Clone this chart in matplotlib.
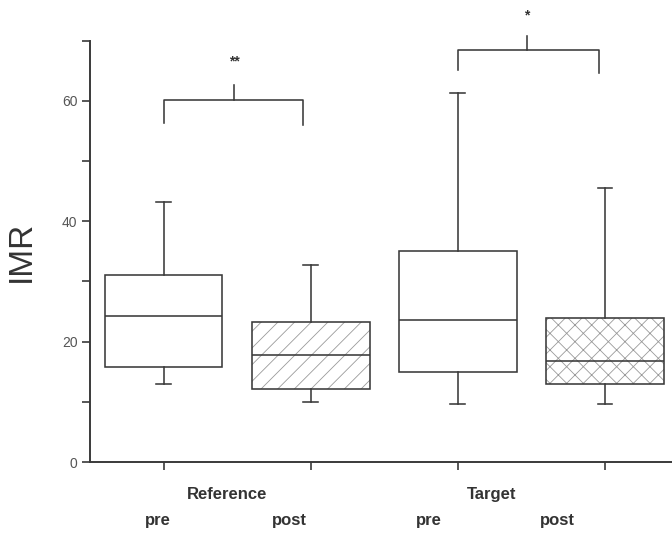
import matplotlib
matplotlib.use("Agg")
import matplotlib.pyplot as plt
from matplotlib.patches import PathPatch
import matplotlib.transforms as mtransforms

plt.rcParams['font.family'] = ['Liberation Sans', 'DejaVu Sans']
plt.rcParams['hatch.linewidth'] = 0.6

# Data (box statistics)
groups = ["Reference", "Target"]
conditions = ["pre", "post", "pre", "post"]
medians = [24.2, 17.7, 23.6, 16.8]
q1 = [15.7, 12.2, 15.0, 13.0]
q3 = [31.0, 23.3, 35.1, 24.0]
whislo = [12.9, 9.9, 9.6, 9.7]
whishi = [43.2, 32.7, 61.3, 45.5]
hatches = [None, "//", None, "xx"]

# significance brackets: (left, right, center, y, leg_left, leg_right, top, label)
brackets = [
    (1.0, 1.95, 1.48, 60.1, 56.3, 55.9, 62.7, "**"),
    (3.0, 3.96, 3.47, 68.4, 65.1, 64.7, 70.8, "*"),
]
star_y = [66.6, 74.1]

dark = "#3a3a3a"
fig = plt.figure(figsize=(6.72, 5.34), dpi=100)
ax = fig.add_axes([90/672, 1-462/534, 588.5/672, (462-40.6)/534])

stats = []
for i in range(4):
    stats.append(dict(med=medians[i], q1=q1[i], q3=q3[i],
                      whislo=whislo[i], whishi=whishi[i], fliers=[]))
positions = [1, 2, 3, 4]
lw = 1.15
bp = ax.bxp(stats, positions=positions, widths=0.8, capwidths=0.1,
            patch_artist=True, showfliers=False,
            boxprops=dict(facecolor="white", edgecolor=dark, linewidth=lw),
            medianprops=dict(color=dark, linewidth=lw),
            whiskerprops=dict(color=dark, linewidth=lw),
            capprops=dict(color=dark, linewidth=lw))
for box, h in zip(bp["boxes"], hatches):
    if h:
        box.set_hatch(h)
        box.set_edgecolor("#9a9a9a")
        box.set_linewidth(0)
        outline = PathPatch(box.get_path(), transform=box.get_transform(),
                            facecolor="none", edgecolor=dark, linewidth=lw,
                            zorder=box.get_zorder() + 0.5)
        ax.add_patch(outline)
for m in bp["medians"]:
    m.set_zorder(5)

for (xl, xr, xc, y, yl, yr, yt, lab), sy in zip(brackets, star_y):
    ax.plot([xl, xl, xr, xr], [yl, y, y, yr], color=dark, lw=lw, clip_on=False)
    ax.plot([xc, xc], [y, yt], color=dark, lw=lw, clip_on=False)
    ax.text(xc, sy, lab, ha="center", va="center", fontsize=10, color="#333333",
            fontweight="bold", clip_on=False)

ax.set_xlim(0.5, 4.5)
ax.set_ylim(0, 70)
ax.set_yticks(range(0, 71, 10))
ax.set_yticklabels([str(v) if v % 20 == 0 and v < 70 else "" for v in range(0, 71, 10)])
ax.set_xticks(positions)
ax.set_xticklabels([])
ax.tick_params(axis="both", direction="out", length=6, width=1.2, color=dark,
               labelsize=10, labelcolor="#555555", pad=3)
for s in ["top", "right"]:
    ax.spines[s].set_visible(False)
for s in ["left", "bottom"]:
    ax.spines[s].set_linewidth(1.4)
    ax.spines[s].set_color(dark)

ax.set_ylabel("IMR", fontsize=24, color="#333333", labelpad=18)

trans = mtransforms.blended_transform_factory(ax.transData, ax.transAxes)
group_x = [1.435, 3.23]
for gx, g in zip(group_x, groups):
    ax.text(gx, -0.076, g, transform=trans, ha="center", va="center",
            fontsize=12, fontweight="bold", color="#333333")
cond_x = [0.96, 1.857, 2.80, 3.68]
for cx, c in zip(cond_x, conditions):
    ax.text(cx, -0.138, c, transform=trans, ha="center", va="center",
            fontsize=12, fontweight="bold", color="#333333")

fig.savefig("out.png", dpi=100)
